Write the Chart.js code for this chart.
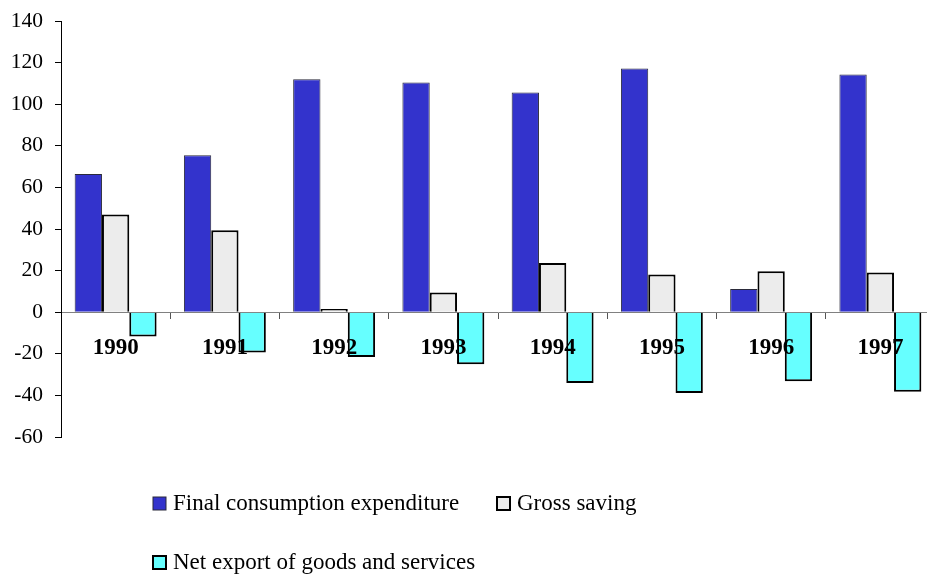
<!DOCTYPE html>
<html>
<head>
<meta charset="utf-8">
<script src="https://cdn.jsdelivr.net/npm/chart.js@4/dist/chart.umd.min.js"></script>
<style>
  html, body { margin: 0; padding: 0; background: #fff; overflow: hidden; }
  #wrap { width: 936px; height: 576px; }
</style>
</head>
<body>
<div id="wrap"><canvas id="chart" width="936" height="576"></canvas></div>
<script>
// values
const years = ['1990', '1991', '1992', '1993', '1994', '1995', '1996', '1997'];
const finalConsumption = [66.5, 75.5, 112, 110.4, 105.6, 117.2, 11.2, 114.3];
const grossSaving = [47, 39.4, 1.5, 9.5, 23.6, 18.1, 19.7, 19.1];
const netExport = [-11.7, -19.4, -21.5, -25, -34, -38.8, -33.2, -38.3];
const yTicks = [-60, -40, -20, 0, 20, 40, 60, 80, 100, 120, 140];

const serif = '"Liberation Serif", "DejaVu Serif", serif';

// legend laid out in two rows like the original
const legendRows = {
  id: 'legendRows',
  afterDraw(chart) {
    const ctx = chart.ctx;
    const ds = chart.data.datasets;
    const items = [
      { i: 0, x: 153, y: 497 },
      { i: 1, x: 497, y: 497 },
      { i: 2, x: 153, y: 556 }
    ];
    ctx.save();
    ctx.font = '23px ' + serif;
    ctx.textBaseline = 'alphabetic';
    items.forEach(it => {
      const d = ds[it.i];
      ctx.fillStyle = d.backgroundColor;
      ctx.fillRect(it.x, it.y, 13, 13);
      ctx.lineWidth = d.borderWidth;
      ctx.strokeStyle = d.borderColor;
      ctx.strokeRect(it.x, it.y, 13, 13);
      ctx.fillStyle = '#000';
      ctx.fillText(d.label, it.x + 20, it.y + 13);
    });
    ctx.restore();
  }
};

// eslint-disable-next-line no-unused-vars
const barChart = new Chart(document.getElementById('chart'), {
  type: 'bar',
  data: {
    labels: years,
    datasets: [{
      label: 'Final consumption expenditure',
      data: finalConsumption,
      backgroundColor: '#3333cc',
      borderColor: '#2a2a3a',
      borderWidth: 1
    }, {
      label: 'Gross saving',
      data: grossSaving,
      backgroundColor: '#ececec',
      borderColor: '#000',
      borderWidth: 2
    }, {
      label: 'Net export of goods and services',
      data: netExport,
      backgroundColor: '#66ffff',
      borderColor: '#000',
      borderWidth: 2
    }]
  },
  options: {
    responsive: false,
    animation: false,
    layout: { padding: { left: 0, right: 1, top: 21, bottom: 139 } },
    datasets: {
      bar: { categoryPercentage: 0.75, barPercentage: 1 }
    },
    plugins: {
      legend: { display: false },
      tooltip: { enabled: false }
    },
    scales: {
      x: {
        position: { y: 0 },
        grid: {
          offset: true,
          drawOnChartArea: false,
          drawTicks: true,
          tickLength: 6,
          color: '#555'
        },
        border: { color: '#808080', width: 1 },
        ticks: {
          z: 1,
          padding: 16,
          color: '#000',
          font: { family: serif, size: 23, weight: 'bold' }
        }
      },
      y: {
        min: -60,
        max: 140,
        afterFit: s => {
          s.width = 61;
          s.paddingTop = 0;
          s.paddingBottom = 0;
        },
        afterBuildTicks: s => { s.ticks = yTicks.map(v => ({ value: v })); },
        grid: {
          drawOnChartArea: false,
          tickLength: 6,
          color: '#000'
        },
        border: { color: '#000', width: 1 },
        ticks: {
          padding: 12,
          color: '#000',
          font: { family: serif, size: 21.5 }
        }
      }
    }
  },
  plugins: [legendRows]
});
</script>
</body>
</html>
